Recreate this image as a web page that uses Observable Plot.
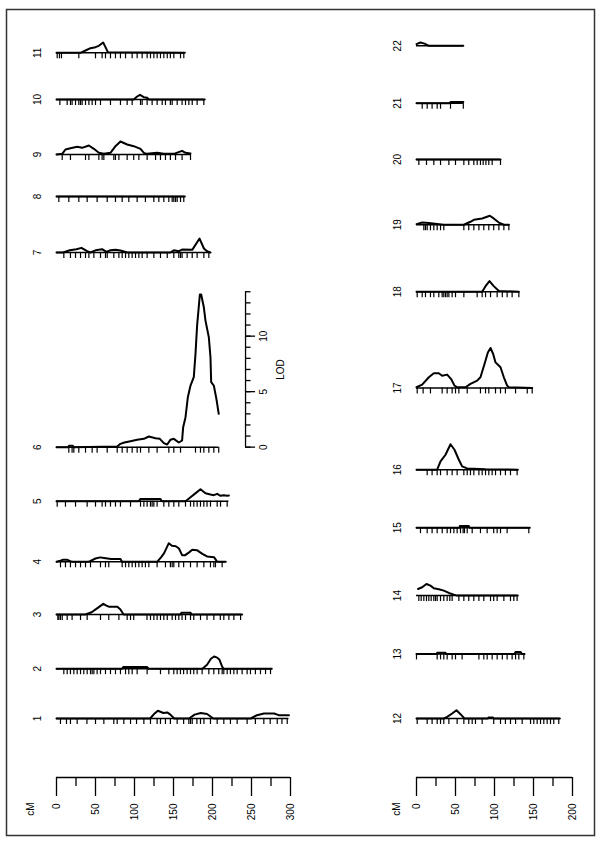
<!DOCTYPE html>
<html>
<head>
<meta charset="utf-8">
<script src="https://cdn.jsdelivr.net/npm/d3@7"></script>
<script src="https://cdn.jsdelivr.net/npm/@observablehq/plot@0.6"></script>
<style>
  html, body { margin: 0; padding: 0; background: #fff; }
  #chart svg { display: block; }
</style>
</head>
<body>
<div id="chart"></div>
<script>
// ---------------- DATA ----------------
const leftChrs  = ["1","2","3","4","5","6","7","8","9","10","11"];
const rightChrs = ["12","13","14","15","16","17","18","19","20","21","22"];

// LOD profiles: positions (cM) and LOD values
const chr1_cM  = [0,120,125,130,137,142,146,151,170,177,185,193,201,249,257,266,279,285,298];
const chr1_lod = [0,0,0.4,0.7,0.5,0.55,0.35,0,0,0.35,0.5,0.4,0,0,0.3,0.45,0.45,0.3,0.3];
const chr2_cM  = [0,84,85.5,116,118,187,193,198,202,206,209,212,214,276];
const chr2_lod = [0,0,0.15,0.15,0,0,0.36,0.9,1.1,1.0,0.8,0.25,0,0];
const chr3_cM  = [0,37,45,52,60,64,67,78,82,86,159,160,172,173,238];
const chr3_lod = [0,0,0.2,0.55,0.96,0.8,0.7,0.7,0.45,0,0,0.15,0.15,0,0];
const chr4_cM  = [0,5,8,14,20,41,50,56,61,70,82,84,129,134,138,144,148,153,157,161,165,170,174,180,187,193,202,206,217];
const chr4_lod = [0,0.1,0.18,0.18,0,0,0.3,0.4,0.35,0.25,0.25,0,0,0.4,0.78,1.68,1.44,1.4,1.2,0.6,0.6,0.85,1.08,1.05,0.72,0.48,0.42,0,0];
const chr5_cM  = [0,105.6,107.7,133.3,135,165.4,171.8,178,184.6,191,197.4,201.7,206,210.3,214.5,218.8,221];
const chr5_lod = [0,0,0.2,0.2,0,0,0.36,0.7,1.08,0.72,0.6,0.54,0.66,0.48,0.54,0.48,0.5];
const chr6_cM  = [0,15,16,21,22,77.8,82,87,94.9,103.4,112,118.4,127,132.5,137.6,141.9,146,150.4,156.8,161,162.4,165.4,168.4,171.8,176,178.2,180.3,183.8,185.5,188.9,191,195.3,197.4,198.3,201.7,205,208];
const chr6_lod = [0,0,0.12,0.12,0,0.05,0.3,0.42,0.54,0.66,0.75,0.96,0.81,0.75,0.36,0.24,0.66,0.75,0.42,0.6,1.8,2.7,4.5,5.55,6.3,8.4,11,13.75,13.75,12.6,11.4,9.9,8.1,5.85,5.55,4.35,3.0];
const chr7_cM  = [0,8.5,17,25.6,32,39.3,43.6,50,58.5,64,69.2,75.6,82,90.6,146,150.4,156.8,161,174,183.4,189,193,197.4];
const chr7_lod = [0,0,0.2,0.3,0.42,0.12,0,0.2,0.3,0.06,0.2,0.24,0.18,0,0,0.2,0.12,0.27,0.24,1.26,0.36,0.12,0];
const chr8_cM  = [0,164.5];
const chr8_lod = [0,0];
const chr9_cM  = [0,7.3,11.5,17.9,26.5,32.9,41.5,47.9,54.3,60.7,69.2,75.6,82,90.6,99,107.7,112,116,129,137.6,150.4,161,165.4,171.8];
const chr9_lod = [0,0.06,0.45,0.57,0.69,0.6,0.81,0.51,0.15,0.06,0.15,0.75,1.17,0.9,0.75,0.51,0.15,0.06,0.15,0.06,0.06,0.33,0.15,0.1];
const chr10_cM  = [0,99,103.4,107,112,116.2,118.4,190];
const chr10_lod = [0,0,0.27,0.42,0.21,0.15,0,0];
const chr11_cM  = [0,30.8,37.2,43.6,50,54.3,59.8,62.8,65.8,164.5];
const chr11_lod = [0,0,0.21,0.42,0.51,0.63,0.93,0.51,0.06,0];
const chr12_cM  = [0,35,39.3,45.7,51.3,56.4,61.5,91.5,92.5,97.8,99,183.8];
const chr12_lod = [0,0,0.15,0.45,0.75,0.39,0,0,0.1,0.1,0,0];
const chr13_cM  = [0,26,26.5,37.2,38,126,127,133.3,135,138.5];
const chr13_lod = [0,0,0.1,0.1,0,0,0.18,0.18,0,0];
const chr14_cM  = [2,7.3,12.8,17.9,22.2,28.6,35,41.5,47.9,52.1,129.9];
const chr14_lod = [0.6,0.75,1.05,0.9,0.66,0.57,0.45,0.24,0.09,0,0];
const chr15_cM  = [0,55,55.6,67,68,145.3];
const chr15_lod = [0,0,0.15,0.15,0,0];
const chr16_cM  = [0,26.5,30.8,37.2,43.6,48.7,54.3,58.5,65,88.5,129.9];
const chr16_lod = [0,0,0.75,1.35,2.3,1.8,0.9,0.3,0.12,0.05,0];
const chr17_cM  = [0,7.3,15.8,22.2,28.6,32.9,39.3,44.4,48.7,52.1,62.8,69.2,77.8,82,87.2,91.5,94.9,98.3,101.3,107.7,112,116.2,118.4,148.3];
const chr17_lod = [0.06,0.3,0.96,1.32,1.32,1.1,1.2,0.8,0.21,0.06,0.06,0.36,0.66,0.96,2.16,3.2,3.6,3.06,2.3,1.86,0.96,0.21,0.06,0];
const chr18_cM  = [0,84.2,88.5,93.6,99,105.6,131.2];
const chr18_lod = [0,0,0.5,0.96,0.5,0.06,0];
const chr19_cM  = [0,7.3,15.8,26.5,35,60.7,69.2,73.5,84.2,94,99,105.6,112,118.4];
const chr19_lod = [0.06,0.2,0.15,0.06,0,0,0.27,0.45,0.57,0.81,0.57,0.2,0,0];
const chr20_cM  = [0,107.7];
const chr20_lod = [0,0];
const chr21_cM  = [0,43,43.6,60];
const chr21_lod = [0,0,0.1,0.1];
const chr22_cM  = [0,5.1,10.3,15.8,60];
const chr22_lod = [0.15,0.3,0.2,0,0];

// Marker positions (cM)
const chr1_markers  = [5.1,12.8,17.9,26.5,39,50,60.7,73.5,77.8,86.3,94.9,102.6,112,120.5,129,133.3,139.7,146,154.7,163,169.7,171.8,174,180,184.6,189,197.4,206,214.5,223,231.6,244.4,255,265.8,274,283,289,295.8];
const chr2_markers  = [9.4,13.7,17.9,22.2,26.5,30.8,35,39.3,43.6,45.7,47.9,52.1,56.4,62.8,69.2,75.6,82,88.5,92.7,97,103.4,116.2,133.3,144,150.4,154.7,158.9,163,167.5,171.8,176,180.3,186.7,195.3,201.7,208,212.4,214.5,218.8,223,227.4,231.6,238,244.4,248.7,255,261.5,268,274.4];
const chr3_markers  = [1.7,3,5,7.3,13.7,20,30.8,39.3,56.4,67,80,90.6,94.9,99,116,120.5,124.8,129,133.3,137.6,142,148.3,152.6,156.8,161,165.4,171.8,176,184.6,193,201.7,210,214.5,221,227.4,236];
const chr4_markers  = [5.1,11.5,17.9,24.4,30.8,37.2,43.6,56.4,62.8,67,84.2,88.5,92.7,97,101.3,105.6,109.8,114,118.4,129,139.7,146,148.3,150.4,156.8,163,171.8,180.3,188.9,197.4,201.7,203.8,212.4];
const chr5_markers  = [0.9,11.5,24.4,39.3,50,58.5,62.8,69.2,75.6,82,94.9,107.7,112,116.2,120.5,122.6,124.8,129,137.6,144,150.4,156.8,165.4,171.8,176,180.3,184.6,188.9,193,197.4,206,210.3,218.8];
const chr6_markers  = [15.8,20,22.2,28.6,37.2,45.7,52.1,65,77.8,84.2,90.6,97,103.4,107.7,118.4,129,144,150.4,159,178.2,184.6,188.9,195.3,201.7,208];
const chr7_markers  = [9.4,17.9,24.4,30.8,37.2,41.5,47.9,56.4,62.8,65,73.5,80,84.2,88.5,92.7,97,101.3,105.6,109.8,116.2,124.8,133.3,142,150.4,156.8,159,161,167.5,174,180.3,188.9,195.3];
const chr8_markers  = [3,15.8,28.6,39.3,52.1,65,75.6,84.2,92.7,103.4,114,124.8,131.2,137.6,144,148.3,150.4,152.6,154.7,159,163.2];
const chr9_markers  = [7.3,17.9,37.2,41.5,54.3,58.5,60.7,73.5,75.6,80,90.6,99,105.6,116.2,127,133.3,139.7,146,152.6,161,171.8];
const chr10_markers = [4.3,13.7,17.9,20,24.4,28.6,30.8,32.9,37.2,41.5,45.7,50,56.4,69.2,82,90.6,97,107.7,109.8,116.2,122.6,129,135.5,139.7,146,148.3,154.7,161,165.4,169.7,174,180.3,188.9];
const chr11_markers = [0.9,3.8,6.4,28.6,50,58.5,62.8,69.2,75.6,82,88.5,97,103.4,109.8,116.2,120.5,124.8,129,133.3,137.6,142,146,150.4,159,163.2];
const chr12_markers = [0.9,13.7,20,26.5,30.8,35,41.5,52.1,60.7,67,71.4,75.6,84.2,99,107.7,114,120.5,127,135.5,146.2,150.4,154.7,159,163.2,167.5,171.8,176,182.4];
const chr13_markers = [0,26.5,30.8,35,39.3,45.7,50,58.5,80,86.3,90.6,97,103.4,110,116.2,122.6,127,131.2,137.6];
const chr14_markers = [3,6,9.4,12.8,15.8,18.8,22.2,24.4,26.5,30.8,35,39.3,42.7,45.7,54.3,60.7,67,73.5,80,86.3,94.9,99,103.4,112,120.5,124.8,129];
const chr15_markers = [5.1,13.7,20,26.5,33,39.3,43.6,47.9,52.1,56.4,59.8,61.5,65,71.4,82,90.6,99,103.4,107.7,116.2,144];
const chr16_markers = [13.7,20,26.5,30.8,39.3,45.7,52.1,60.7,65,69.2,73.5,80,84.2,88.5,92.7,97,101.3,107.7,114,120.5,129];
const chr17_markers = [0.9,8.5,17.9,32.9,39.3,45.7,50,54.3,65,82,88.5,92.7,101.3,107.7,114,127,142,148.3];
const chr18_markers = [0.9,7.3,11.5,17.9,22.2,28.6,32.9,35,37.2,39.3,41.5,45.7,50,60.7,77.8,84.2,88.5,94.9,103.4,110,116.2,122.6,131.2];
const chr19_markers = [9.4,11.5,13.7,17.9,22.2,26.5,30.8,35,60.7,67,73.5,80,86.3,92.7,99,105.6,112,118.4];
const chr20_markers = [3,12.8,22.2,30.8,41.5,50,60.7,67,73.5,77.8,82,85.5,89,92.7,97,107.7];
const chr21_markers = [7.3,13.7,20,26.5,30.8,43.6,60];
const chr22_markers = [];

// Axis ticks
const cmTicksLeft  = [0,50,100,150,200,250,300];
const cmMinorLeft  = [25,75,125,175,225,275];
const cmTicksRight = [0,50,100,150,200];
const cmMinorRight = [25,75,125,175];
const lodTicks     = [0,5,10];
const lodMinor     = [0,1,2,3,4,5,6,7,8,9,10,11,12,13,14];
const lodAxisChr   = "6";

// ---------------- LAYOUT ----------------
const profiles = {
  "1":[chr1_cM,chr1_lod,chr1_markers], "2":[chr2_cM,chr2_lod,chr2_markers],
  "3":[chr3_cM,chr3_lod,chr3_markers], "4":[chr4_cM,chr4_lod,chr4_markers],
  "5":[chr5_cM,chr5_lod,chr5_markers], "6":[chr6_cM,chr6_lod,chr6_markers],
  "7":[chr7_cM,chr7_lod,chr7_markers], "8":[chr8_cM,chr8_lod,chr8_markers],
  "9":[chr9_cM,chr9_lod,chr9_markers], "10":[chr10_cM,chr10_lod,chr10_markers],
  "11":[chr11_cM,chr11_lod,chr11_markers], "12":[chr12_cM,chr12_lod,chr12_markers],
  "13":[chr13_cM,chr13_lod,chr13_markers], "14":[chr14_cM,chr14_lod,chr14_markers],
  "15":[chr15_cM,chr15_lod,chr15_markers], "16":[chr16_cM,chr16_lod,chr16_markers],
  "17":[chr17_cM,chr17_lod,chr17_markers], "18":[chr18_cM,chr18_lod,chr18_markers],
  "19":[chr19_cM,chr19_lod,chr19_markers], "20":[chr20_cM,chr20_lod,chr20_markers],
  "21":[chr21_cM,chr21_lod,chr21_markers], "22":[chr22_cM,chr22_lod,chr22_markers]
};

const pxPerCM = 0.78, pxPerLOD = 11.1;
const x0Left = 56, x0Right = 416, yBase = 718, yTopCurve = 42;
const H = (yBase - yTopCurve) / pxPerLOD;           // total stacked height in LOD units
const colShift = (x0Right - x0Left) / pxPerCM;       // right column offset in cM units
const axisY = -(777 - yBase) / pxPerLOD;             // cM axis line

const curves = [], markers = [], baselines = [], labels = [], offsets = {};
[[leftChrs, 0], [rightChrs, colShift]].forEach(([chrs, shift]) => {
  const maxes = chrs.map(c => d3.max(profiles[c][1]));
  const gap = (H - d3.sum(maxes)) / (chrs.length - 1);
  let off = 0;
  chrs.forEach((c, i) => {
    offsets[c] = {y: off, shift};
    const [pos, lod, mk] = profiles[c];
    pos.forEach((p, j) => curves.push({chr: c, x: p + shift, y: off + lod[j]}));
    mk.forEach(m => markers.push({x: m + shift, y: off}));
    baselines.push({x1: shift, x2: d3.max(pos) + shift, y: off});
    labels.push({x: shift, y: off, text: c});
    off += maxes[i] + gap;
  });
});

const axes = [
  {shift: 0, major: cmTicksLeft, minor: cmMinorLeft},
  {shift: colShift, major: cmTicksRight, minor: cmMinorRight}
];
const axisLines = axes.map(a => ({x1: a.shift, x2: d3.max(a.major) + a.shift}));
const majorTicks = axes.flatMap(a => a.major.map(t => ({x: t + a.shift, label: String(t)})));
const minorTicks = axes.flatMap(a => a.minor.map(t => ({x: t + a.shift})));

const lodOff = offsets[lodAxisChr].y;
const lodAxisX = d3.max(profiles[lodAxisChr][0]) + (245 - 218.2) / pxPerCM;

const font = "'Liberation Sans', Arial, Helvetica, sans-serif";
const ink = "#000";

const chart = Plot.plot({
  width: 600, height: 844,
  marginTop: 9, marginBottom: 9, marginLeft: 6, marginRight: 6,
  x: {domain: [0, 300], range: [x0Left, x0Left + 300 * pxPerCM], axis: null},
  y: {domain: [0, H], range: [yBase, yTopCurve], axis: null},
  style: {fontFamily: font, fontSize: "10px", background: "#fff", color: ink},
  marks: [
    Plot.frame({stroke: "#333", strokeWidth: 1.5}),
    // chromosome baselines
    Plot.ruleY(baselines, {x1: "x1", x2: "x2", y: "y", stroke: ink, strokeWidth: 1.5}),
    // marker rug
    Plot.ruleX(markers, {x: "x", y1: "y", y2: "y", insetBottom: -6, stroke: ink, strokeWidth: 1.2}),
    // LOD curves
    Plot.line(curves, {x: "x", y: "y", z: "chr", stroke: ink, strokeWidth: 2}),
    // chromosome labels
    Plot.text(labels, {x: "x", y: "y", text: "text", rotate: -90, dx: -18.5, textAnchor: "middle", fill: ink}),
    // cM axes
    Plot.ruleY(axisLines, {x1: "x1", x2: "x2", y: () => axisY, stroke: ink, strokeWidth: 1.3}),
    Plot.ruleX(majorTicks, {x: "x", y1: () => axisY, y2: () => axisY, insetBottom: -19, stroke: ink, strokeWidth: 1.3}),
    Plot.ruleX(minorTicks, {x: "x", y1: () => axisY, y2: () => axisY, insetBottom: -9, stroke: ink, strokeWidth: 1.3}),
    Plot.text(majorTicks, {x: "x", y: () => axisY, text: "label", rotate: -90, textAnchor: "end", dy: 26, fill: ink}),
    Plot.text([axes[0]], {x: "shift", y: () => axisY, text: () => "cM", rotate: -90, textAnchor: "end", dy: 25, dx: -26, fill: ink}),
    Plot.text([axes[1]], {x: "shift", y: () => axisY, text: () => "cM", rotate: -90, textAnchor: "end", dy: 25, dx: -19.5, fill: ink}),
    // LOD axis (beside chromosome 6)
    Plot.ruleX([lodAxisX], {x: d => d, y1: () => lodOff, y2: () => lodOff + d3.max(lodMinor), stroke: ink, strokeWidth: 1.3}),
    Plot.ruleY(lodMinor, {x1: () => lodAxisX, x2: () => lodAxisX, y: d => lodOff + d, insetRight: -5.5, stroke: ink, strokeWidth: 1.3}),
    Plot.ruleY(lodTicks, {x1: () => lodAxisX, x2: () => lodAxisX, y: d => lodOff + d, insetRight: -10, stroke: ink, strokeWidth: 1.3}),
    Plot.text(lodTicks, {x: () => lodAxisX, y: d => lodOff + d, text: d => String(d), rotate: -90, dx: 18, textAnchor: "middle", fill: ink}),
    Plot.text(["LOD"], {x: () => lodAxisX, y: () => lodOff + 7, text: d => d, rotate: -90, dx: 35, textAnchor: "middle", fill: ink})
  ]
});

document.getElementById("chart").appendChild(chart);
</script>
</body>
</html>
